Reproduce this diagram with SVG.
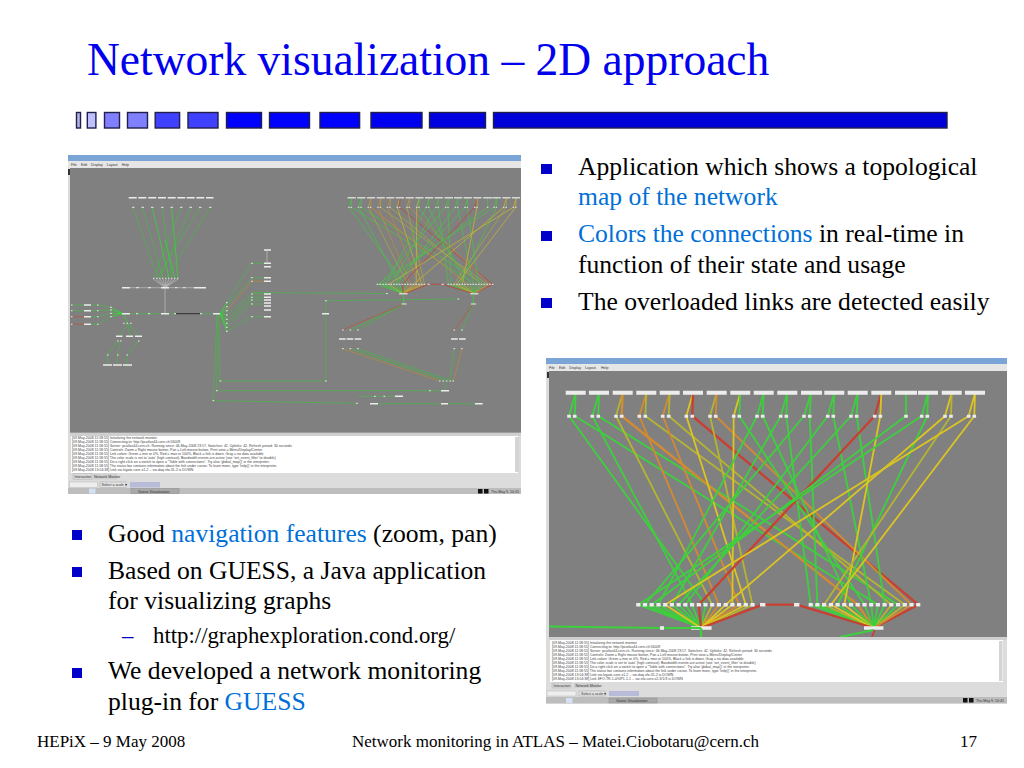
<svg xmlns="http://www.w3.org/2000/svg" xmlns:xlink="http://www.w3.org/1999/xlink" width="1024" height="768" viewBox="0 0 1024 768">
<style>
text{font-family:"Liberation Serif","Times New Roman",serif;fill:#000}
.title{font-size:45.5px;fill:#0000ee}
.b{font-size:25.6px}
.s{font-size:22.8px}
.f{font-size:17px}
.h{fill:#0070d8}
.sq{fill:#0000c8}
.dk{fill:#1010d0;stroke:#20204a;stroke-width:1.4}
.ui{font-family:"Liberation Sans",Arial,sans-serif;font-size:3.6px;fill:#333}
.log{font-family:"Liberation Sans",Arial,sans-serif;font-size:3.5px;fill:#444}
.e{fill:none;stroke-width:1.8;stroke-linejoin:round}
.g{stroke:#3ed03e}
.y{stroke:#dcc420}
.o{stroke:#b4b430}
.r{stroke:#d48a30}
.d{stroke:#c84030}
.t{stroke-width:2.3}
.w{fill:none;stroke:#ececec}
.l{fill:none;stroke-width:.8}
.lg{stroke:#4fb04f}
.lb{stroke:#36d436}
.lo{stroke:#b08a40}
.ld{stroke:#b05a40}
.lw{stroke:#b8b8b8}
</style>
<defs>
<filter id="soft" x="-2%" y="-2%" width="104%" height="104%"><feGaussianBlur stdDeviation="0.3"/></filter>
<g id="mesh">
<g class="edges">
<path class="e g" d="M575.700 393L569 416L705.500 604.700L701 628"/>
<path class="e g" d="M575.700 393L574.700 416L877.900 604.700L873.700 628"/>
<path class="e g" d="M599 393L592.300 416L692.100 604.700L701 628"/>
<path class="e g" d="M599 393L598.300 416L898.100 604.700L873.700 628"/>
<path class="e o" d="M622.700 393L616 416L712.200 604.700L701 628"/>
<path class="e r t" d="M622.700 393L621.700 416L857.700 604.700L873.700 628"/>
<path class="e r" d="M646.300 393L639.300 416L718.900 604.700L701 628"/>
<path class="e o" d="M646.300 393L645.300 416L904.800 604.700L873.700 628"/>
<path class="e r" d="M669.700 393L662.700 416L739.100 604.700L701 628"/>
<path class="e o" d="M669.700 393L668.700 416L891.300 604.700L873.700 628"/>
<path class="e y" d="M693 393L686.300 416L745.800 604.700L701 628"/>
<path class="e d t" d="M693 393L692.300 416L918.200 604.700L873.700 628"/>
<path class="e o" d="M716.700 393L710 416L752.500 604.700L701 628"/>
<path class="e r" d="M716.700 393L715.700 416L911.500 604.700L873.700 628"/>
<path class="e y" d="M740.300 393L733.700 416L732.400 604.700L701 628"/>
<path class="e g" d="M740.300 393L739.300 416L864.500 604.700L873.700 628"/>
<path class="e g" d="M763.700 393L757 416L658.500 604.700L701 628"/>
<path class="e g" d="M763.700 393L762.700 416L851 604.700L873.700 628"/>
<path class="e g" d="M787.300 393L780.700 416L671.900 604.700L701 628"/>
<path class="e g" d="M787.300 393L786.300 416L810.700 604.700L873.700 628"/>
<path class="e g" d="M811 393L804 416L645 604.700L701 628"/>
<path class="e g" d="M811 393L809.700 416L817.400 604.700L873.700 628"/>
<path class="e g" d="M834.300 393L827.700 416L685.300 604.700L701 628"/>
<path class="e g" d="M834.300 393L833.300 416L871.200 604.700L873.700 628"/>
<path class="e g" d="M857.700 393L851 416L678.600 604.700L701 628"/>
<path class="e g" d="M857.700 393L856.700 416L884.600 604.700L873.700 628"/>
<path class="e d t" d="M881.300 393L874.700 416L698.800 604.700L701 628"/>
<path class="e y" d="M881.300 393L880.300 416L844.300 604.700L873.700 628"/>
<path class="e g" d="M906 393L906 416L651.700 604.700L701 628"/>
<path class="e g" d="M928 393L921.700 416L638.300 604.700L701 628"/>
<path class="e g" d="M928 393L927.300 416L837.600 604.700L873.700 628"/>
<path class="e y" d="M951.700 393L945 416L725.700 604.700L701 628"/>
<path class="e o" d="M951.700 393L951 416L824.100 604.700L873.700 628"/>
<path class="e y" d="M975 393L968.700 416L665.200 604.700L701 628"/>
<path class="e y" d="M975 393L974.300 416L830.900 604.700L873.700 628"/>
<path class="e d t" d="M701 628L762.700 604.700L796.700 604.700L873.700 628"/>
</g>
<path class="w" stroke-width="4" d="M565.700 392.700h20M589 392.700h20M612.700 392.700h20M636.300 392.700h20M659.700 392.700h20M683 392.700h20M706.700 392.700h20M730.300 392.700h20M753.700 392.700h20M777.300 392.700h20M801 392.700h21M824.300 392.700h20M847.700 392.700h20M871.300 392.700h20M895 392.700h22M918 392.700h20M941.700 392.700h20M965 392.700h20"/>
<path class="w" stroke-width="3" d="M567.200 416.300h3.600M572.900 416.300h3.600M590.500 416.300h3.600M596.500 416.300h3.600M614.200 416.300h3.600M619.900 416.300h3.600M637.500 416.300h3.600M643.500 416.300h3.600M660.900 416.300h3.600M666.900 416.300h3.600M684.500 416.300h3.600M690.500 416.300h3.600M708.200 416.300h3.600M713.900 416.300h3.600M731.900 416.300h3.600M737.500 416.300h3.600M755.200 416.300h3.600M760.900 416.300h3.600M778.900 416.300h3.600M784.500 416.300h3.600M802.200 416.300h3.600M807.900 416.300h3.600M825.900 416.300h3.600M831.500 416.300h3.600M849.200 416.300h3.600M854.900 416.300h3.600M872.900 416.300h3.600M878.500 416.300h3.600M904.200 416.300h3.600M919.900 416.300h3.600M925.500 416.300h3.600M943.200 416.300h3.600M949.200 416.300h3.600M966.900 416.300h3.600M972.500 416.300h3.600"/>
<path class="w" stroke-width="3.400" d="M636.200 604.700h4.200M642.900 604.700h4.200M649.600 604.700h4.200M656.400 604.700h4.200M663.100 604.700h4.200M669.800 604.700h4.200M676.500 604.700h4.200M683.200 604.700h4.200M690 604.700h4.200M696.700 604.700h4.200M703.400 604.700h4.200M710.100 604.700h4.200M716.800 604.700h4.200M723.600 604.700h4.200M730.300 604.700h4.200M737 604.700h4.200M743.700 604.700h4.200M750.400 604.700h4.200M760 604.700h5.400M794 604.700h5.400M808.600 604.700h4.200M815.300 604.700h4.200M822 604.700h4.200M828.800 604.700h4.200M835.500 604.700h4.200M842.200 604.700h4.200M848.900 604.700h4.200M855.600 604.700h4.200M862.400 604.700h4.200M869.100 604.700h4.200M875.800 604.700h4.200M882.500 604.700h4.200M889.200 604.700h4.200M896 604.700h4.200M902.700 604.700h4.200M909.400 604.700h4.200M916.100 604.700h4.200"/>
<path class="w" stroke-width="3.600" d="M691 628h20.600M864 628h19.400"/>
</g>
</defs>
<rect width="1024" height="768" fill="#fff"/>
<text class="title" x="87" y="75">Network visualization – 2D approach</text>
<g id="decor-bar" class="dk">
<rect x="76.500" y="112.500" width="4" height="15.500" style="fill:#b4b4e4"/>
<rect x="87.300" y="112.500" width="8.600" height="15.500" style="fill:#c0c0ff"/>
<rect x="104.500" y="112.500" width="15" height="15.500" style="fill:#8080ff"/>
<rect x="127.500" y="112.500" width="20" height="15.500" style="fill:#8080ff"/>
<rect x="155.200" y="112.500" width="24.400" height="15.500" style="fill:#4040ff"/>
<rect x="188" y="112.500" width="30" height="15.500" style="fill:#4040ff"/>
<rect x="226.500" y="112.500" width="35" height="15.500" style="fill:#0000ff"/>
<rect x="269.500" y="112.500" width="40" height="15.500" style="fill:#0000ff"/>
<rect x="320" y="112.500" width="39.600" height="15.500" style="fill:#0000ff"/>
<rect x="371" y="112.500" width="51" height="15.500" style="fill:#0000f0"/>
<rect x="429.500" y="112.500" width="56" height="15.500" style="fill:#0000e0"/>
<rect x="493.500" y="112.500" width="453.500" height="15.500" style="fill:#0000d8"/>
</g>

<g id="screenshot-left">
<rect x="68" y="155" width="453" height="339" fill="#dcdcdc"/>
<rect x="68" y="155" width="453" height="6" fill="#7ba5d6"/>
<rect x="68" y="161" width="453" height="7" fill="#e6e6e6"/>
<text class="ui" y="165.800"><tspan x="71">File</tspan><tspan x="81">Edit</tspan><tspan x="91">Display</tspan><tspan x="106.700">Layout</tspan><tspan x="121.700">Help</tspan></text>
<rect x="70" y="168" width="451" height="264.700" fill="#808080"/>
<rect x="68" y="169" width="2" height="6" fill="#333"/>
<g filter="url(#soft)">
<use xlink:href="#mesh" transform="translate(114.800 37.300) scale(.4115 .4085)" opacity=".8"/>
<g class="l lg">
<path d="M133 207.500L158 278.300M142.500 207.500L163 278.300M162 207.500L172 278.300M200 207.500L157 278.300M210 207.500L166 278.300M190.700 207.500L160 278.300M181.300 207.500L153.500 278.300"/>
</g>
<path class="l lb" d="M152.300 207.500L169 278.300M171.700 207.500L178 278.300M165 240L175 278.300"/>
<path class="l lw" d="M153.500 279L165 287.700M157 279L165 287.700M160 279L165 287.700M163 279L165 287.700M166 279L165 287.700M169 279L165 287.700M172 279L165 287.700M175 279L165 287.700M178 279L165 287.700M165 288V313"/>
<path class="l lw" d="M130 287.700h64M267 250V264"/>
<g class="l lg">
<path d="M226.700 302.700L251.700 263.300H264M226.700 306.700L251.700 277.700H264M226.700 315L251.700 294H264M226.700 319.300L251.700 297.300H264M226.700 323.300L251.700 300H264M226.700 327.300L251.700 304H264M226.700 331.300L251.700 316.700H264"/>
<path d="M251.700 292.500L386.700 293.500M326.700 300.700L458.300 299M325.700 300.700V381M325.700 381H220M216.700 390.700H429.300M213.300 400.700L356.700 403.300M378 403.700H441M448 403.700H475M358 396.300H395M429 390.700H441"/>
<path d="M350 330L403.700 304M357.700 330L403.700 304M462 330L473.300 304M350 348.700L446 381M357.700 348.700L452 381M454.300 348.700L450 381M445 382L445 390"/>
<path d="M84 305H71.700M90.700 305H97.700L110.700 307.300M90.700 310.700H97.700L110.700 310M84 310.700H71.700M90.700 316.700H97.700L110.700 313.300M90.700 324.300H97.700L110.700 316.700"/>
<path d="M128 323.300L119.300 336.300M128 323.300L129.300 336.300M128 323.300L138.700 336.300M118 341L107.300 355V365M120 341L117.300 355V365M138.700 341L127 355V365"/>
<path d="M130 313.700H161M169 313.700H176M200 313.700H213"/>
<path d="M218 314L216.700 390.700M219 314L220 381M217 314L213.300 400.700"/>
</g>
<g class="l lb">
<path d="M123 313.700L110.700 307.300M123 313.700L110.700 310M123 313.700L110.700 313.300M123 313.700L110.700 316.700M123 313.700L128 323.300"/>
<path d="M220 313.700L226.700 302.700M220 313.700L226.700 306.700M220 313.700L226.700 310.700M220 313.700L226.700 315M220 313.700L226.700 319.300M220 313.700L226.700 323.300M220 313.700L226.700 327.300M220 313.700L226.700 331.300M403.700 294V304M473.300 294V304"/>
</g>
<path class="l lo" d="M226.700 310.700L251.700 281.300H264M342.700 348.700L440 381M462 348.700L453.300 381"/>
<path class="l ld" d="M342.300 330L403.700 304M454.300 330L473.300 304M84 316.700H71.700M84 324.300H71.700"/>
<path d="M176 313.700H200" stroke="#303030" stroke-width="1" fill="none"/>
<path class="w" stroke-width="1.400" d="M264 250h7M264 263.300h7M264 266.700h7M264 277.700h7M264 281.300h7M264 294h7M264 297.300h7M264 300h7M264 303h7M264 306h7M264 310h7M264 316.700h7M122 287.700h8M161 287.700h8M194 287.700h12M122 313.700h8M161 313.700h8M213 313.700h7M322 313.700h7M84 305h7M84 310.700h7M84 316.700h7M84 324.300h7M116 336.300h6.500M126 336.300h7M135 336.300h7M103 365h9M113 365h9M123 365h9M339 339h6.700M346.700 339h6.600M354.700 339h6.600M451 339h6.700M459 339h6.700M441 390.700h8M370 403.700h8M441 403.700h7M475 403.700h7.700M395 396.300h8M128.700 197.700h8M138.300 197.700h8M148.300 197.700h8M158 197.700h8M167.700 197.700h8M177.300 197.700h8M186.700 197.700h8M196.300 197.700h8M206 197.700h7.500"/>
<path class="w" stroke-width="1" d="M132 207.300h2.500M141.500 207.300h2.500M151 207.300h2.500M161 207.300h2.500M170.500 207.300h2.500M180 207.300h2.500M189.500 207.300h2.500M199 207.300h2.500M209 207.300h2.500M153 278.300h1.400M156 278.300h1.400M159 278.300h1.400M162 278.300h1.400M165 278.300h1.400M168 278.300h1.400M171 278.300h1.400M174 278.300h1.400M177 278.300h1.400M136 287.700h3M148 287.700h3M175 287.700h2.500M183 287.700h2.500M136 313.700h2M148 313.700h2M174 313.700h2M200 313.700h2M71 305h1.500M71 310.700h1.500M71 316.700h1.500M71 324.300h1.500M97 305h1.500M97 310.700h1.500M97 316.700h1.500M97 324.300h1.500M110 307.300h1.800M110 310h1.800M110 313.300h1.800M110 316.700h1.800M123 323.300h1.500M126.500 323.300h1.500M130 323.300h1.500M117 341h1.500M120 341h1.500M138 341h1.500M107 355h1.500M117 355h1.500M126.500 355h1.500M226 302.700h1.700M226 306.700h1.700M226 310.700h1.700M226 315h1.700M226 319.300h1.700M226 323.300h1.700M226 327.300h1.700M226 331.300h1.700M251 263.300h1.700M251 277.700h1.700M251 281.300h1.700M251 294h1.700M251 297.300h1.700M251 300h1.700M251 304h1.700M251 316.700h1.700M386 293.500h1.700M325 300.700h1.700M457.500 299h1.700M325 381h1.700M219.500 381h1.700M216 390.700h1.700M429 390.700h1.700M212.500 400.700h1.700M356 403.300h1.700M342 330h1.700M349.500 330h1.700M357 330h1.700M342 348.700h1.700M349.500 348.700h1.700M357 348.700h1.700M453.500 330h1.700M461 330h1.700M453.500 348.700h1.700M461 348.700h1.700M439 381h1.500M442.500 381h1.500M446 381h1.500M449.500 381h1.500M452.500 381h1.500M374 396.300h1.700M383.500 396.300h1.700M401.500 304h5M471 304h5"/>
</g>
<rect x="70" y="433" width="451" height="3" fill="#cfcfcf"/>
<rect x="71" y="436" width="447" height="37" fill="#fff"/>
<g>
<text class="log" x="72" y="439.300">[09-May-2008 11:58:55] Initializing the network monitor</text>
<text class="log" x="72" y="443.200">[09-May-2008 11:58:55] Connecting to: http://pcatlas44.cern.ch:56009</text>
<text class="log" x="72" y="447.100">[09-May-2008 11:58:55] Server: pcatlas44.cern.ch.  Running since: 06-May-2008 23:17.  Switches: 42.  Uplinks: 42.  Refresh period: 30 seconds</text>
<text class="log" x="72" y="451">[09-May-2008 11:58:55] Controls: Zoom = Right mouse button, Pan = Left mouse button, Print view = Menu/Display/Center</text>
<text class="log" x="72" y="454.900">[09-May-2008 11:58:55] Link colors:  Green = min or 0%, Red = max or 100%, Black = link is down, Gray = no data available</text>
<text class="log" x="72" y="458.800">[09-May-2008 11:58:55] The color scale is set to 'auto' (high contrast). Bandwidth events are active (use 'set_event_filter' to disable)</text>
<text class="log" x="72" y="462.700">[09-May-2008 11:58:55] Do a right click on a switch to open a "Table with connections". Try also 'global_map()' in the interpreter.</text>
<text class="log" x="72" y="466.600">[09-May-2008 11:58:55] The status bar contains information about the link under cursor. To learn more, type 'help()' in the interpreter.</text>
<text class="log" x="72" y="470.500">[09-May-2008 13:04:38] Link sw-lvgate-core-x1-2 -- sw-daq-sfo-31-2 is DOWN</text>
</g>
<rect x="515" y="437" width="4" height="35" fill="#d4d4d4"/>
<rect x="73" y="473.500" width="19" height="6" fill="#d8d8d8" stroke="#aaa" stroke-width=".4"/>
<text class="ui" x="74.500" y="478">Interaction</text>
<rect x="92" y="473.500" width="25" height="6" fill="#d0d0d0"/>
<text class="ui" x="94" y="478">Network Monitor</text>
<rect x="69.500" y="482" width="28" height="5.500" fill="#eee" stroke="#aaa" stroke-width=".4"/>
<rect x="100" y="482" width="26" height="5.500" fill="#e4e4e4" stroke="#999" stroke-width=".4"/>
<text class="ui" x="101.500" y="486">Select a scale ▾</text>
<rect x="130" y="482" width="30" height="5.500" fill="#b8bcd8"/>
<rect x="68" y="488" width="453" height="6" fill="#bdbdbd"/>
<rect x="89" y="488.500" width="6.500" height="5" fill="#d4e0f4"/>
<rect x="131" y="488.500" width="48" height="5" fill="#a8a8a8" stroke="#888" stroke-width=".4"/>
<text class="ui" x="138" y="492.500">Guess Visualization</text>
<rect x="478" y="489" width="4.500" height="4.500" fill="#111"/>
<rect x="484" y="489" width="4.500" height="4.500" fill="#111"/>
<text class="ui" x="491" y="492.500">Thu May  9, 10:15</text>
</g>

<g id="screenshot-right">
<rect x="546" y="358" width="461" height="345.500" fill="#dcdcdc"/>
<rect x="546" y="358" width="461" height="6" fill="#7ba5d6"/>
<rect x="546" y="364" width="461" height="7" fill="#e6e6e6"/>
<text class="ui" y="368.800"><tspan x="549">File</tspan><tspan x="559">Edit</tspan><tspan x="569.300">Display</tspan><tspan x="585">Layout</tspan><tspan x="601">Help</tspan></text>
<rect x="549" y="371" width="458" height="266" fill="#808080"/>
<rect x="547" y="372" width="2" height="6" fill="#333"/>
<svg x="549" y="371" width="458" height="266" viewBox="549 371 458 266">
<g filter="url(#soft)">
<use xlink:href="#mesh"/>
<path class="e g" d="M549 626.500L662 628L701 628"/>
<path class="w" stroke-width="3.600" d="M660 628h4"/>
<path class="e g t" d="M701 628V637"/>
<path class="e g" d="M840 637L873.700 630"/>
<path class="e d" d="M872 637L874.500 630"/>
</g>
</svg>
<rect x="549" y="637" width="458" height="3" fill="#cfcfcf"/>
<rect x="550" y="640" width="453" height="42" fill="#fff"/>
<g>
<text class="log" x="552" y="644.200">[09-May-2008 11:58:55] Initializing the network monitor</text>
<text class="log" x="552" y="648.200">[09-May-2008 11:58:55] Connecting to: http://pcatlas44.cern.ch:56009</text>
<text class="log" x="552" y="652.200">[09-May-2008 11:58:55] Server: pcatlas44.cern.ch.  Running since: 06-May-2008 23:17.  Switches: 42.  Uplinks: 42.  Refresh period: 30 seconds</text>
<text class="log" x="552" y="656.200">[09-May-2008 11:58:55] Controls: Zoom = Right mouse button, Pan = Left mouse button, Print view = Menu/Display/Center</text>
<text class="log" x="552" y="660.200">[09-May-2008 11:58:55] Link colors:  Green = min or 0%, Red = max or 100%, Black = link is down, Gray = no data available</text>
<text class="log" x="552" y="664.200">[09-May-2008 11:58:55] The color scale is set to 'auto' (high contrast). Bandwidth events are active (use 'set_event_filter' to disable)</text>
<text class="log" x="552" y="668.200">[09-May-2008 11:58:55] Do a right click on a switch to open a "Table with connections". Try also 'global_map()' in the interpreter.</text>
<text class="log" x="552" y="672.200">[09-May-2008 11:58:55] The status bar contains information about the link under cursor. To learn more, type 'help()' in the interpreter.</text>
<text class="log" x="552" y="676.200">[09-May-2008 13:04:38] Link sw-lvgate-core-x1-2 -- sw-daq-sfo-31-2 is DOWN</text>
<text class="log" x="552" y="680.200">[09-May-2008 13:04:38] Link SFO-TR-1-4/GP1-1-1 -- sw-sfo-core-x2-3/1/3 is DOWN</text>
</g>
<rect x="999" y="641" width="3.500" height="40" fill="#d4d4d4"/>
<rect x="552" y="683" width="19" height="5" fill="#d8d8d8" stroke="#aaa" stroke-width=".4"/>
<text class="ui" x="553.500" y="687">Interaction</text>
<rect x="574" y="683" width="25" height="5" fill="#d0d0d0"/>
<text class="ui" x="575.500" y="687">Network Monitor</text>
<rect x="547" y="691" width="29" height="5" fill="#eee" stroke="#aaa" stroke-width=".4"/>
<rect x="579" y="691" width="26" height="5" fill="#e4e4e4" stroke="#999" stroke-width=".4"/>
<text class="ui" x="581" y="695">Select a scale ▾</text>
<rect x="609" y="691" width="30" height="5" fill="#b8bcd8"/>
<rect x="546" y="697" width="461" height="6.500" fill="#bdbdbd"/>
<rect x="566" y="698" width="6.500" height="5" fill="#d4e0f4"/>
<rect x="609" y="698" width="48" height="5" fill="#a8a8a8" stroke="#888" stroke-width=".4"/>
<text class="ui" x="616" y="702">Guess Visualization</text>
<rect x="963" y="698" width="4.500" height="4.500" fill="#111"/>
<rect x="969" y="698" width="4.500" height="4.500" fill="#111"/>
<text class="ui" x="976" y="702">Thu May  9, 10:41</text>
</g>

<g id="bullets-right">
<rect class="sq" x="541" y="164" width="11" height="10"/>
<rect class="sq" x="541" y="231" width="11" height="10"/>
<rect class="sq" x="541" y="298" width="11" height="10"/>
<text class="b" x="578" y="175">Application which shows a topological</text>
<text class="b h" x="578" y="205">map of the network</text>
<text class="b" x="578" y="242"><tspan class="h">Colors the connections</tspan> in real-time in</text>
<text class="b" x="578" y="273">function of their state and usage</text>
<text class="b" x="578" y="310">The overloaded links are detected easily</text>
</g>
<g id="bullets-left">
<rect class="sq" x="72" y="530" width="10" height="10"/>
<rect class="sq" x="72" y="567" width="10" height="10"/>
<rect class="sq" x="72" y="668" width="10" height="10"/>
<text class="b" x="108" y="542">Good <tspan class="h">navigation features</tspan> (zoom, pan)</text>
<text class="b" x="108" y="579">Based on GUESS, a Java application</text>
<text class="b" x="108" y="609">for visualizing graphs</text>
<text class="s" x="122" y="643" style="fill:#0000c8">–</text>
<text class="s" x="153" y="643">http://graphexploration.cond.org/</text>
<text class="b" x="108" y="679">We developed a network monitoring</text>
<text class="b" x="108" y="710">plug-in for <tspan class="h">GUESS</tspan></text>
</g>
<g id="footer">
<text class="f" x="37" y="747">HEPiX – 9 May 2008</text>
<text class="f" x="352" y="747">Network monitoring in ATLAS – Matei.Ciobotaru@cern.ch</text>
<text class="f" x="960" y="747">17</text>
</g>
</svg>
